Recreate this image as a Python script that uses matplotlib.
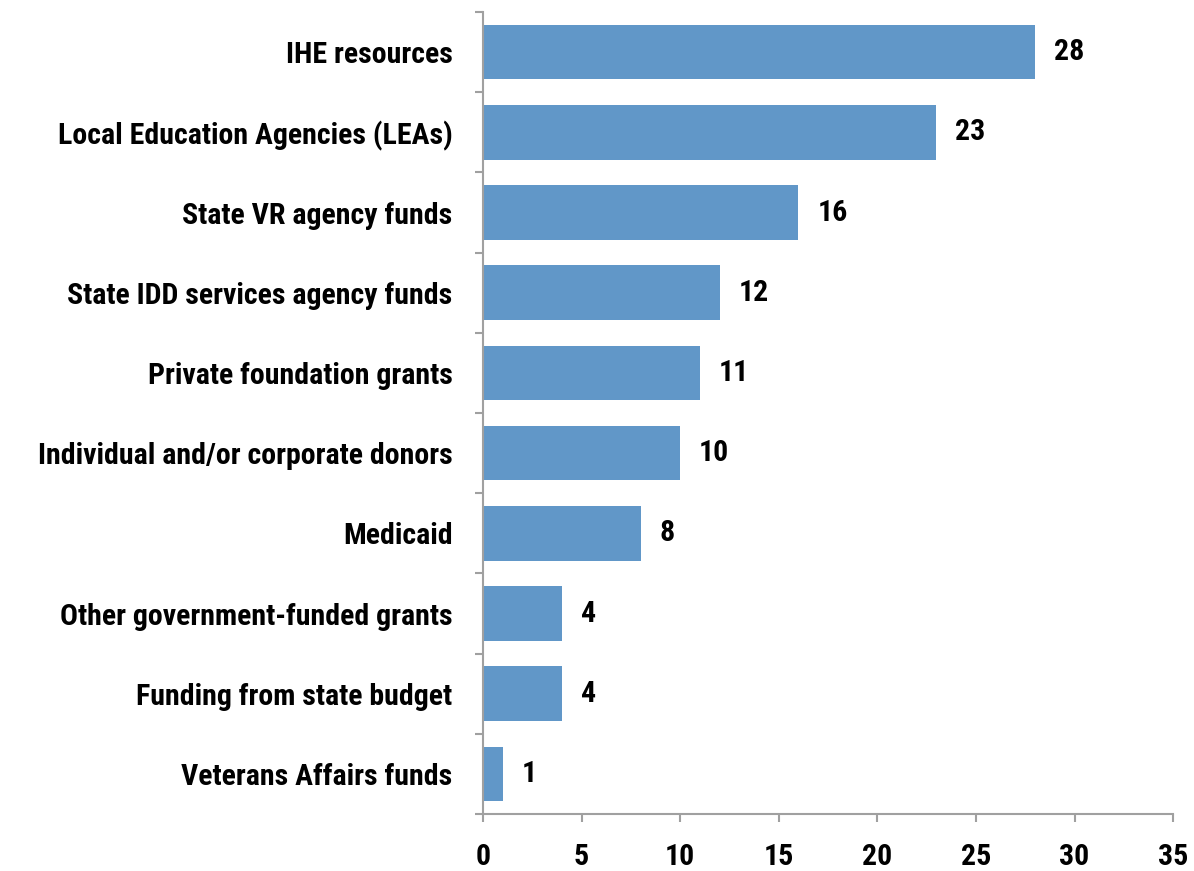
import matplotlib.pyplot as plt

# fonte condensada em negrito, com DejaVu como reserva
plt.rcParams['font.family'] = ['Roboto Condensed', 'DejaVu Sans']
plt.rcParams['font.weight'] = 'bold'

categorias = ["IHE resources", "Local Education Agencies (LEAs)", "State VR agency funds",
              "State IDD services agency funds", "Private foundation grants",
              "Individual and/or corporate donors", "Medicaid", "Other government-funded grants",
              "Funding from state budget", "Veterans Affairs funds"]
valores = [28, 23, 16, 12, 11, 10, 8, 4, 4, 1]
xticks = [0, 5, 10, 15, 20, 25, 30, 35]

cor_barra = '#6197c8'
cor_eixo = '#a0a0a0'
tam = 21.5

fig = plt.figure(figsize=(11.94, 8.71), dpi=100)
ax = fig.add_axes([0.4045, 0.0654, 0.5780, 0.9208])

pos = list(range(len(categorias)))
bars = ax.barh(pos, valores, height=0.68, color=cor_barra)
ax.set_ylim(len(categorias) - 0.5, -0.5)
ax.set_xlim(0, 35)

# rótulos com valores ao lado das barras
for rect, v in zip(bars, valores):
    ax.text(rect.get_width() + 0.95, rect.get_y() + rect.get_height() / 2, str(v),
            va='center', ha='left', fontsize=tam, fontweight='bold')

# ticks do eixo y nas divisões entre categorias, rótulos no centro
ax.set_yticks([p - 0.5 for p in pos] + [len(pos) - 0.5])
ax.set_yticklabels([])
ax.set_yticks(pos, minor=True)
ax.set_yticklabels(categorias, minor=True, fontsize=tam, fontweight='bold')
ax.tick_params(axis='y', which='major', length=6, width=1.5, color=cor_eixo, direction='out')
ax.tick_params(axis='y', which='minor', length=0, pad=22)

ax.set_xticks(xticks)
ax.set_xticklabels([str(t) for t in xticks], fontsize=tam, fontweight='bold')
ax.tick_params(axis='x', length=6, width=1.5, color=cor_eixo, direction='out', pad=15)

for lado in ['top', 'right']:
    ax.spines[lado].set_visible(False)
for lado in ['left', 'bottom']:
    ax.spines[lado].set_color(cor_eixo)
    ax.spines[lado].set_linewidth(1.5)

fig.savefig('out.png', dpi=100)
